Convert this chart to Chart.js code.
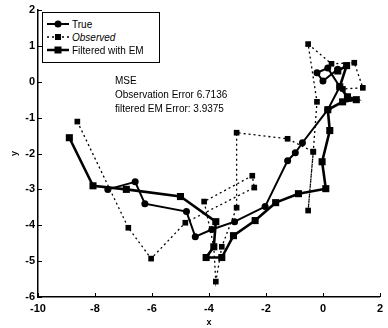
<!DOCTYPE html>
<html><head><meta charset="utf-8">
<script src="https://cdn.jsdelivr.net/npm/chart.js@4/dist/chart.umd.min.js"></script>
<style>
html,body{margin:0;padding:0;background:#fff;}
#wrap{position:relative;width:388px;height:328px;font-family:"Liberation Sans",Arial,sans-serif;}
#legend{position:absolute;left:42px;top:12px;width:116px;height:49px;border:1px solid #000;background:#fff;font-size:10px;}
.row{position:absolute;left:4px;height:12px;display:flex;align-items:center;}
.row svg{margin-right:3px;}
#mse{position:absolute;left:115px;top:74px;font-size:10px;line-height:14px;color:#000;}
</style></head>
<body><div id="wrap">
<canvas id="c" width="388" height="328"></canvas>
<div id="legend">
 <div class="row" style="top:5px"><svg width="22" height="10"><line x1="0" y1="5" x2="22" y2="5" stroke="#000" stroke-width="2"/><circle cx="11" cy="5" r="3.5" fill="#000"/></svg><span>True</span></div>
 <div class="row" style="top:18px"><svg width="22" height="10"><line x1="0" y1="5" x2="22" y2="5" stroke="#000" stroke-width="1.5" stroke-dasharray="2,3"/><rect x="8" y="2" width="6" height="6" fill="#000"/></svg><span style="font-style:italic">Observed</span></div>
 <div class="row" style="top:31px"><svg width="22" height="10"><line x1="0" y1="5" x2="22" y2="5" stroke="#000" stroke-width="2.5"/><rect x="7.5" y="1.5" width="7" height="7" fill="#000"/></svg><span>Filtered with EM</span></div>
</div>
<div id="mse">MSE<br>Observation Error 6.7136<br>filtered EM Error: 3.9375</div>
</div>
<script>
const seriesNames = ["True", "Observed", "Filtered with EM"];
const trueX = [-7.55,-6.59,-6.25,-4.79,-4.48,-3.9,-3.1,-2.03,-1.24,-0.97,-0.72,0.17,0.59,0.17,-0.21,0.0,0.52];
const trueY = [-3.0,-2.79,-3.4,-3.62,-4.32,-4.12,-3.9,-3.48,-2.2,-1.98,-1.7,-0.78,-0.14,0.38,0.25,0.02,0.35];
const obsX = [-8.62,-6.83,-6.03,-4.83,-2.41,-2.48,-4.17,-3.83,-3.76,-3.55,-3.03,-3.03,-1.24,-0.34,-0.52,-0.34,-0.21,-0.52,0.3,1.1,1.4,0.7];
const obsY = [-1.11,-4.07,-4.93,-3.93,-2.95,-2.62,-3.34,-4.6,-5.57,-4.6,-3.51,-1.42,-1.59,-1.95,-3.59,-1.95,-0.56,1.05,0.5,0.53,-0.17,-0.2];
const filtX = [-8.9,-8.07,-6.9,-5.0,-3.76,-3.83,-4.1,-3.55,-3.14,-2.38,-1.66,-0.86,0.1,-0.03,0.24,0.17,0.69,1.17,0.86,0.59,0.83,0.52];
const filtY = [-1.56,-2.9,-3.0,-3.2,-3.9,-4.6,-4.9,-4.9,-4.29,-3.87,-3.37,-3.12,-2.98,-2.23,-1.36,-0.78,-0.56,-0.5,-0.42,-0.14,0.45,0.3];
const xTicks = [-10,-8,-6,-4,-2,0,2];
const yTicks = [-6,-5,-4,-3,-2,-1,0,1,2];

const pts = (xs, ys) => xs.map((x, i) => ({x: x, y: ys[i]}));
const FONT = '"Liberation Sans", Arial, sans-serif';

const inwardTicks = {
  id: 'inwardTicks',
  afterDraw(chart) {
    const ctx = chart.ctx, xs = chart.scales.x, ys = chart.scales.y, a = chart.chartArea;
    ctx.save(); ctx.strokeStyle = '#000'; ctx.lineWidth = 1;
    xTicks.forEach(v => { const p = Math.round(xs.getPixelForValue(v)) + 0.5; ctx.beginPath(); ctx.moveTo(p, a.bottom); ctx.lineTo(p, a.bottom - 4); ctx.stroke(); });
    yTicks.forEach(v => { const p = Math.round(ys.getPixelForValue(v)) + 0.5; ctx.beginPath(); ctx.moveTo(a.left, p); ctx.lineTo(a.left + 4, p); ctx.stroke(); });
    ctx.restore();
  }
};

new Chart(document.getElementById('c'), {
  type: 'scatter',
  data: { datasets: [
    { label: seriesNames[0], data: pts(trueX, trueY), showLine: true, borderColor: '#000', backgroundColor: '#000', borderWidth: 2, pointStyle: 'circle', pointRadius: 3.5, pointBorderWidth: 0 },
    { label: seriesNames[1], data: pts(obsX, obsY), showLine: true, borderColor: '#000', backgroundColor: '#000', borderWidth: 1.3, borderDash: [2, 3], pointStyle: 'rect', pointRadius: 4, pointBorderWidth: 0 },
    { label: seriesNames[2], data: pts(filtX, filtY), showLine: true, borderColor: '#000', backgroundColor: '#000', borderWidth: 2.6, pointStyle: 'rect', pointRadius: 5, pointBorderWidth: 0 }
  ]},
  options: {
    responsive: false, maintainAspectRatio: false, animation: false,
    layout: { autoPadding: false, padding: { top: 10, right: 2, left: 9, bottom: 0 } },
    plugins: { legend: { display: false }, tooltip: { enabled: false } },
    scales: {
      x: { type: 'linear', min: -10, max: 2,
        afterBuildTicks: s => { s.ticks = xTicks.map(v => ({value: v})); },
        afterFit: s => { s.height = 31; },
        grid: { drawOnChartArea: false, drawTicks: false },
        border: { display: true, color: '#000', width: 1.5 },
        ticks: { color: '#000', padding: 5, maxRotation: 0, font: { family: FONT, size: 11, weight: 'bold' } },
        title: { display: true, text: 'x', color: '#000', padding: { top: 1, bottom: 0 }, font: { family: FONT, size: 9, weight: 'bold' } } },
      y: { type: 'linear', min: -6, max: 2,
        afterBuildTicks: s => { s.ticks = yTicks.map(v => ({value: v})); },
        afterFit: s => { s.width = 29; },
        grid: { drawOnChartArea: false, drawTicks: false },
        border: { display: true, color: '#000', width: 1.5 },
        ticks: { color: '#000', padding: 3, font: { family: FONT, size: 11, weight: 'bold' } },
        title: { display: true, text: 'y', color: '#000', padding: { top: 0, bottom: 2 }, font: { family: FONT, size: 9, weight: 'bold' } } }
    }
  },
  plugins: [inwardTicks]
});
</script>
</body></html>
